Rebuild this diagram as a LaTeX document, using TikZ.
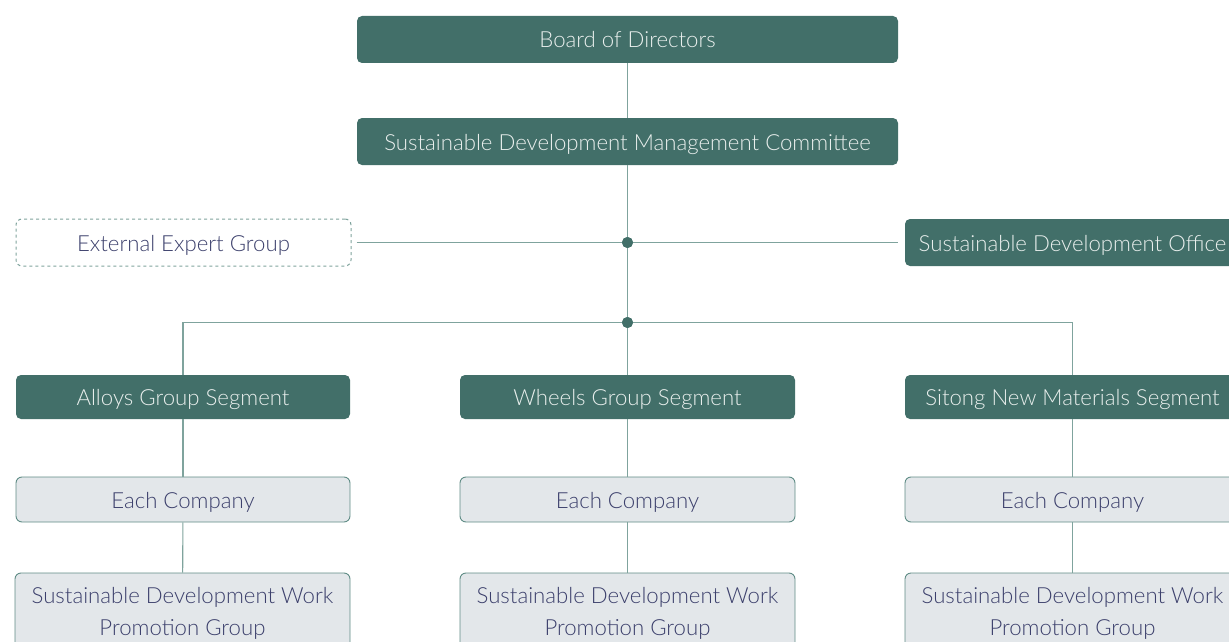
\documentclass[tikz,border=0pt]{standalone}
\usepackage{fontspec}
\setmainfont{Lato Light}
\definecolor{boxgreen}{HTML}{426F69}
\definecolor{boxtext}{HTML}{E9EFED}
\definecolor{linkcol}{HTML}{7FA39D}
\definecolor{palefill}{HTML}{E3E7EA}
\definecolor{paleedge}{HTML}{5F8C85}
\definecolor{paletext}{HTML}{3C406C}
\begin{document}
\begin{tikzpicture}[x=1pt,y=-1pt,
  oneline/.style={text height=20pt, text depth=3pt},
  darkbox/.style={fill=boxgreen, rounded corners=5pt, text=boxtext,
    font=\fontsize{22.2}{26}\selectfont, inner sep=0pt, align=center, oneline},
  palebox/.style={draw=paleedge, line width=0.9pt, fill=palefill, rounded corners=6pt,
    text=paletext, font=\fontsize{22.2}{32}\selectfont, inner sep=0pt, align=center},
  dashbox/.style={draw=linkcol, dashed, dash pattern=on 3pt off 3pt, line width=1pt,
    rounded corners=6pt, text=paletext, font=\fontsize{22.2}{26}\selectfont, inner sep=0pt, oneline},
  link/.style={draw=linkcol, line width=1.1pt},
  hub/.style={circle, fill=boxgreen, minimum size=11pt, inner sep=0pt}
]
\useasboundingbox (0,0) rectangle (1229,642);
\clip (0,0) rectangle (1229,642);

% top of the hierarchy
\node[darkbox, minimum width=541pt, minimum height=47pt] (board) at (627.5,39.5) {Board of Directors};
\node[darkbox, minimum width=541pt, minimum height=47pt] (committee) at (627.5,141.5) {Sustainable Development Management Committee};

% side units on the middle row
\node[dashbox, minimum width=335pt, minimum height=47pt] (experts) at (183.5,242.5) {External Expert Group};
\node[darkbox, minimum width=335pt, minimum height=47pt] (office) at (1072.5,242.5) {Sustainable Development Office};

% junction points
\node[hub] (hubA) at (627.5,242.5) {};
\node[hub] (hubB) at (627.5,322.5) {};

% business segments
\node[darkbox, minimum width=334pt, minimum height=44pt] (alloys) at (183,397) {Alloys Group Segment};
\node[darkbox, minimum width=335pt, minimum height=44pt] (wheels) at (627.5,397) {Wheels Group Segment};
\node[darkbox, minimum width=335pt, minimum height=44pt] (sitong) at (1072.5,397) {Sitong New Materials Segment};

% companies under each segment
\node[palebox, oneline, minimum width=334pt, minimum height=45pt] (coA) at (183,499.5) {Each Company};
\node[palebox, oneline, minimum width=335pt, minimum height=45pt] (coB) at (627.5,499.5) {Each Company};
\node[palebox, oneline, minimum width=335pt, minimum height=45pt] (coC) at (1072.5,499.5) {Each Company};

% working groups
\node[palebox, minimum width=335pt, minimum height=80pt] (wgA) at (182.5,613) {Sustainable Development Work\\Promotion Group};
\node[palebox, minimum width=335pt, minimum height=80pt] (wgB) at (627.5,613) {Sustainable Development Work\\Promotion Group};
\node[palebox, minimum width=335pt, minimum height=80pt] (wgC) at (1072.5,613) {Sustainable Development Work\\Promotion Group};

% connectors
\draw[link] (board) -- (committee);
\draw[link] (committee) -- (hubA) -- (hubB);
\draw[link, shorten <=5pt, shorten >=7pt] (experts.east) -- (office.west);
\draw[link] (hubB) -| (alloys.north);
\draw[link] (hubB) -| (sitong.north);
\draw[link] (hubB) -- (wheels);
\draw[link] (alloys) -- (coA);
\draw[link] (wheels) -- (coB);
\draw[link] (sitong) -- (coC);
\draw[link] (coA) -- (wgA);
\draw[link] (coB) -- (wgB);
\draw[link] (coC) -- (wgC);

% redraw the junction dots on top of the lines
\fill[boxgreen] (hubA) circle (5.5pt);
\fill[boxgreen] (hubB) circle (5.5pt);
\end{tikzpicture}
\end{document}
